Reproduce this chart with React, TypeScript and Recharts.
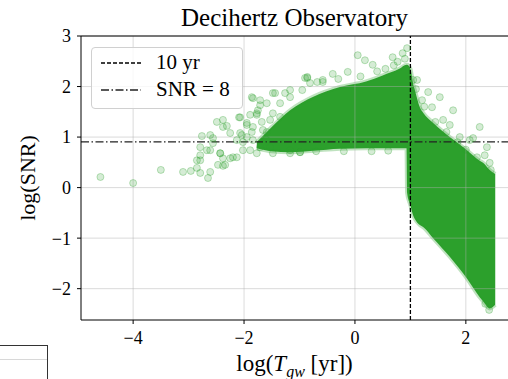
import React from 'react';
import { ComposedChart, Area, Scatter, XAxis, YAxis, ReferenceLine } from 'recharts';

const GREEN = '#2ca02c';
const SERIF = '"Liberation Serif", "DejaVu Serif", serif';

// dense core of the population: lower / upper edge per log(T_gw)
const coreX = [-1.77, -1.5, -1.17, -0.75, -0.27, 0.2, 0.5, 0.8, 0.93, 0.94, 1.0, 1.05, 1.08, 1.17, 1.23, 1.41, 1.71, 2.02, 2.25, 2.31, 2.43, 2.53];
const coreLow = [0.78, 0.72, 0.7, 0.73, 0.77, 0.78, 0.78, 0.78, 0.78, -0.1, -0.35, -0.55, -0.62, -0.74, -0.78, -1.0, -1.37, -1.8, -2.17, -2.25, -2.39, -2.32];
const coreHigh = [0.9, 1.2, 1.53, 1.8, 1.99, 2.1, 2.22, 2.35, 2.43, 2.43, 2.35, 2.05, 1.93, 1.59, 1.48, 1.28, 1.0, 0.74, 0.53, 0.49, 0.35, 0.27];

// sparse systems outside the dense core
const outlierX = [
  -4.59, -4.0, -3.5, -3.1, -2.96, -2.79, -2.61, -2.65, -2.79, -2.49, -2.38, -2.31, -2.09, -1.84, -2.76, -2.56,
  -2.43, -2.2, -2.47, -2.34, -2.79, -2.85, -1.95, -1.77, -2.07, -2.25, -1.71, -1.59, -1.48, -1.75, -0.86, -0.81,
  -0.68, -0.95, -1.17, -2.56, -2.67, -2.13, -2.02, -2.38, -1.84, -1.66, -1.53, -1.35, -1.44, -1.26, -0.9, -0.4,
  -0.13, 0.05, 0.18, 0.32, 0.68, 0.86, 0.94, 0.77, 1.05, 1.32, 1.53, 1.77, 2.25, 1.21, 1.39, 1.59, 1.71, 1.89,
  2.07, 2.38, 2.34, 2.43, -1.17, -0.99, -1.77, -1.53, -1.89, -0.58, 2.13, 1.12, -0.3, 0.1, 0.4, 0.55, 0.7, 0.9,
  -0.2, 0.3, 0.6, -0.7, 1.1, 1.25, 1.45, 1.65, 1.85, 2.0, 2.2, 2.45, 2.42, 2.35,
  -1.86, -1.71, -1.77, -1.68, -2.07, -1.95, -2.38, -2.04, -2.61, -1.86, -1.59, -1.48, -1.35, -1.17, -0.86, -0.58,
  -2.61, -2.43, -2.25, -2.13, -2.79, -2.38, -2.85, -1.89, -1.71, -1.48, -1.17, -0.99, -2.02, -1.84, -1.95, -1.6,
];
const outlierY = [
  0.21, 0.09, 0.35, 0.31, 0.33, 0.29, 0.31, 0.19, 0.8, 1.3, 1.34, 1.22, 1.39, 1.77, 1.02, 0.98,
  0.68, 0.6, 0.45, 0.45, 0.64, 0.54, 1.24, 1.44, 1.08, 1.08, 1.73, 1.67, 1.87, 1.53, 2.19, 2.07,
  2.09, 1.93, 1.93, 0.88, 0.74, 0.94, 0.74, 0.58, 1.2, 1.14, 1.34, 1.4, 1.87, 1.87, 2.17, 2.25,
  2.29, 2.62, 2.52, 2.43, 2.58, 2.66, 2.76, 2.49, 2.13, 1.89, 1.79, 1.53, 1.2, 1.73, 1.59, 1.34, 1.24, 1.0,
  0.94, 0.8, 0.64, 0.49, 0.74, 0.7, 0.68, 0.8, 1.44, 2.09, 0.98, 2.13, 2.15, 2.2, 2.3, 2.35, 2.42, 2.55,
  0.72, 0.72, 0.73, 0.72, 1.95, 1.6, 1.3, 1.1, 0.9, 0.75, 0.6, 0.35, -2.42, -2.3,
  1.79, 1.63, 1.47, 1.3, 1.39, 1.28, 1.2, 1.04, 1.04, 1.1, 1.1, 1.47, 1.67, 1.79, 2.17, 2.13,
  0.74, 0.68, 0.58, 0.6, 0.54, 0.43, 0.39, 0.74, 0.8, 0.68, 0.68, 0.7, 0.9, 0.94, 1.0, 0.95,
];

const xTicks = [-4, -2, 0, 2];
const yTicks = [-2, -1, 0, 1, 2, 3];
const tenYears = 1;
const snrThreshold = 0.903;

const fmt = (v: number) => (v < 0 ? `\u2212${Math.abs(v)}` : `${v}`);

const Dot = (props: any) => (
  <circle cx={props.cx} cy={props.cy} r={3.5} fill={GREEN} fillOpacity={0.2} stroke={GREEN} strokeOpacity={0.3} strokeWidth={1} />
);

export default function App() {
  const coreData = coreX.map((x, i) => ({ x, range: [coreLow[i], coreHigh[i]] }));
  const outliers = outlierX.map((x, i) => ({ x, y: outlierY[i] }));
  const tickStyle = { fill: '#000', fontSize: 18, fontFamily: SERIF };

  return (
    <div style={{ position: 'absolute', left: 0, top: 0, width: 508, height: 379, overflow: 'hidden', background: '#fff', fontFamily: SERIF }}>
      <ComposedChart width={508} height={379} data={coreData} margin={{ top: 36, right: 0, bottom: 0, left: 0 }}>
        <XAxis type="number" dataKey="x" domain={[-4.94, 2.76]} ticks={xTicks} interval={0} allowDataOverflow
          height={59} tickSize={4} tickMargin={7} stroke="#000" tick={tickStyle} tickFormatter={fmt} />
        <YAxis type="number" domain={[-2.62, 3]} ticks={yTicks} interval={0} allowDataOverflow
          width={81} tickSize={4} tickMargin={6} stroke="#000" tick={tickStyle} tickFormatter={fmt} />
        <Area type="monotone" dataKey="range" fill={GREEN} fillOpacity={1} stroke={GREEN} strokeOpacity={0.3} strokeWidth={4} isAnimationActive={false} />
        <Scatter data={outliers} dataKey="y" shape={Dot} isAnimationActive={false} />
        {xTicks.map((t) => (
          <ReferenceLine key={`gx${t}`} x={t} stroke="#b0b0b0" strokeOpacity={0.45} strokeWidth={1} />
        ))}
        {yTicks.map((t) => (
          <ReferenceLine key={`gy${t}`} y={t} stroke="#b0b0b0" strokeOpacity={0.45} strokeWidth={1} />
        ))}
        <ReferenceLine x={tenYears} stroke="#000" strokeDasharray="4 2" strokeWidth={1.3} />
        <ReferenceLine y={snrThreshold} stroke="#222" strokeDasharray="8 2.5 1.5 2.5" strokeWidth={1.3} />
        <ReferenceLine y={3} stroke="#000" strokeWidth={1} />
      </ComposedChart>

      <div style={{ position: 'absolute', left: 81, width: 427, top: 3, textAlign: 'center', fontSize: 25, lineHeight: '30px' }}>
        Decihertz Observatory
      </div>

      <div style={{ position: 'absolute', left: 81, width: 427, top: 350, textAlign: 'center', fontSize: 23, lineHeight: '27px' }}>
        log(<i>T</i><sub style={{ fontSize: 16, fontStyle: 'italic' }}>gw</sub> [yr])
      </div>

      <div style={{ position: 'absolute', left: 28, top: 178, transform: 'translate(-50%, -50%) rotate(-90deg)', fontSize: 22, lineHeight: '26px', whiteSpace: 'nowrap' }}>
        log(SNR)
      </div>

      <div style={{ position: 'absolute', left: 91, top: 47, width: 152, height: 62, boxSizing: 'border-box', border: '1px solid #d0d0d0', borderRadius: 4, background: 'rgba(255,255,255,0.8)' }}>
        <svg width={60} height={60} style={{ position: 'absolute', left: 0, top: 0 }}>
          <line x1={9} x2={49} y1={15} y2={15} stroke="#000" strokeWidth={1.3} strokeDasharray="4 2" />
          <line x1={9} x2={49} y1={42} y2={42} stroke="#222" strokeWidth={1.3} strokeDasharray="8 2.5 1.5 2.5" />
        </svg>
        <div style={{ position: 'absolute', left: 64, top: 1, fontSize: 21, lineHeight: '27px', whiteSpace: 'nowrap' }}>10 yr</div>
        <div style={{ position: 'absolute', left: 64, top: 28, fontSize: 21, lineHeight: '27px', whiteSpace: 'nowrap' }}>SNR = 8</div>
      </div>

      <div style={{ position: 'absolute', left: -10, top: 345, width: 58, height: 50, boxSizing: 'border-box', border: '1px solid #333' }}>
        <div style={{ position: 'absolute', left: 0, right: 0, top: 13, height: 1, background: '#d8d8d8' }} />
      </div>
    </div>
  );
}
